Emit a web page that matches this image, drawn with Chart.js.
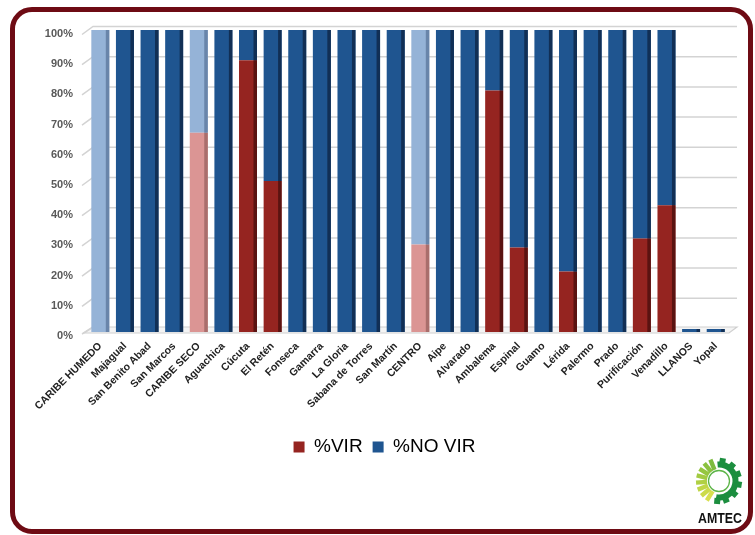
<!DOCTYPE html>
<html>
<head>
<meta charset="utf-8">
<script src="https://cdn.jsdelivr.net/npm/chart.js@4/dist/chart.umd.min.js"></script>
<style>
  html, body { margin: 0; padding: 0; background: #ffffff; }
  #wrap { position: relative; width: 755px; height: 535px; overflow: hidden; }
  #frame {
    position: absolute; left: 10px; top: 7px; width: 733px; height: 517px;
    border: 5px solid #6E0B14; border-radius: 22px; box-sizing: content-box;
  }
  #chart { position: absolute; left: 0; top: 0; }
  #logo { position: absolute; left: 690px; top: 452px; }
</style>
</head>
<body>
<div id="wrap">
  <div id="frame"></div>
  <canvas id="chart" width="755" height="535"></canvas>
  <svg id="logo" width="64" height="80" viewBox="0 0 64 80"></svg>
</div>
<script>
// Municipalities grouped by region (region rows are in capitals)
const categories = ['CARIBE HUMEDO', 'Majagual', 'San Benito Abad', 'San Marcos', 'CARIBE SECO',
  'Aguachica', 'Cúcuta', 'El Retén', 'Fonseca', 'Gamarra', 'La Gloria', 'Sabana de Torres',
  'San Martín', 'CENTRO', 'Aipe', 'Alvarado', 'Ambalema', 'Espinal', 'Guamo', 'Lérida',
  'Palermo', 'Prado', 'Purificación', 'Venadillo', 'LLANOS', 'Yopal'];

// Region totals drawn in lighter tones
const regionRows = ['CARIBE HUMEDO', 'CARIBE SECO', 'CENTRO'];

// Share of samples with / without virus (%)
const vir   = [0, 0, 0, 0, 66, 0, 90, 50, 0, 0, 0, 0, 0, 29, 0, 0, 80, 28, 0, 20, 0, 0, 31, 42, 0, 0];
const noVir = [100, 100, 100, 100, 34, 100, 10, 50, 100, 100, 100, 100, 100, 71, 100, 100, 20, 72, 100, 80, 100, 100, 69, 58, 0, 0];

const yTicks = [0, 10, 20, 30, 40, 50, 60, 70, 80, 90, 100];

const RED = '#952420', RED_LIGHT = '#DB9594';
const BLUE = '#1F5590', BLUE_LIGHT = '#95B3D7';
const SIDE = { '#952420': '#5A1311', '#DB9594': '#A96E6C', '#1F5590': '#112F55', '#95B3D7': '#6985AA' };

const isRegion = c => regionRows.includes(c);

// Back wall grid lines, left wall slants and floor for a 3-D look
const wallPlugin = {
  id: 'wall',
  beforeDatasetsDraw(chart) {
    const { ctx, chartArea: a, scales: { y } } = chart;
    ctx.save();
    const y0 = y.getPixelForValue(0);
    // floor
    ctx.beginPath();
    ctx.moveTo(a.left - 4, y0 + 1);
    ctx.lineTo(a.right + 1, y0 + 1);
    ctx.lineTo(a.right + 9, y0 - 5);
    ctx.lineTo(a.left + 5, y0 - 5);
    ctx.closePath();
    ctx.fillStyle = '#F4F4F4';
    ctx.fill();
    ctx.strokeStyle = '#CFCFCF';
    ctx.lineWidth = 1.2;
    ctx.stroke();
    // grid lines
    ctx.strokeStyle = '#D3D3D3';
    ctx.lineWidth = 1.5;
    yTicks.forEach(v => {
      if (v === 0) return;
      const yb = y.getPixelForValue(v) - 3.5;
      ctx.beginPath();
      ctx.moveTo(a.left - 6, yb + 8);
      ctx.lineTo(a.left + 5, yb);
      ctx.lineTo(a.right + 9, yb);
      ctx.stroke();
    });
    // left slant of the floor edge
    ctx.beginPath();
    ctx.moveTo(a.left - 6, y0 + 2);
    ctx.lineTo(a.left + 5, y0 - 5);
    ctx.stroke();
    ctx.restore();
  },
  afterDatasetsDraw(chart) {
    // darker right side on every bar
    const { ctx } = chart;
    ctx.save();
    chart.data.datasets.forEach((ds, di) => {
      const meta = chart.getDatasetMeta(di);
      meta.data.forEach((bar, i) => {
        const { x, y, base, width } = bar.getProps(['x', 'y', 'base', 'width'], true);
        const h = base - y;
        if (h <= 0.5) return;
        const col = ds.backgroundColor[i];
        ctx.fillStyle = SIDE[col];
        ctx.fillRect(x + width / 2 - 3.5, y, 3.5, h);
      });
    });
    ctx.restore();
  }
};

new Chart(document.getElementById('chart'), {
  type: 'bar',
  data: {
    labels: categories,
    datasets: [
      {
        label: '%VIR',
        data: vir,
        backgroundColor: categories.map(c => isRegion(c) ? RED_LIGHT : RED),
        barPercentage: 0.73,
        categoryPercentage: 1
      },
      {
        label: '%NO VIR',
        data: noVir,
        backgroundColor: categories.map(c => isRegion(c) ? BLUE_LIGHT : BLUE),
        barPercentage: 0.73,
        categoryPercentage: 1,
        minBarLength: 3
      }
    ]
  },
  options: {
    responsive: false,
    animation: false,
    layout: { padding: { left: 41, right: 27, top: 30, bottom: 68.5 } },
    plugins: {
      tooltip: { enabled: false },
      legend: {
        position: 'bottom',
        labels: {
          boxWidth: 11,
          boxHeight: 11,
          padding: 10,
          color: '#3A3A3A',
          font: { family: 'Liberation Sans, Arial, sans-serif', size: 19 },
          generateLabels: () => [
            { text: '%VIR', fillStyle: RED, strokeStyle: RED, lineWidth: 0, datasetIndex: 0 },
            { text: '%NO VIR', fillStyle: BLUE, strokeStyle: BLUE, lineWidth: 0, datasetIndex: 1 }
          ]
        }
      }
    },
    scales: {
      x: {
        stacked: true,
        grid: { display: false, drawTicks: false },
        border: { display: false },
        ticks: {
          autoSkip: false,
          maxRotation: 45,
          minRotation: 45,
          padding: 8,
          color: '#222222',
          font: { family: 'Liberation Sans, Arial, sans-serif', size: 10.5, weight: 'bold' }
        },
        afterFit: s => { s.height = 95.5; }
      },
      y: {
        stacked: true,
        min: 0,
        max: 100,
        grid: { display: false, drawTicks: false },
        border: { display: false },
        afterBuildTicks: s => { s.ticks = yTicks.map(v => ({ value: v })); },
        ticks: {
          padding: 15,
          labelOffset: 4,
          color: '#595959',
          font: { family: 'Liberation Sans, Arial, sans-serif', size: 11, weight: 'bold' },
          callback: v => v + '%'
        },
        afterFit: s => { s.width = 47; }
      }
    }
  },
  plugins: [wallPlugin]
});

// AMTEC logo: sunburst rays on the left, cog on the right
(function () {
  const svg = document.getElementById('logo');
  const cx = 29, cy = 29;
  let html = '';
  const rayColors = ['#D7DF4E', '#CCDB4A', '#BFD647', '#B0D044', '#A2CB42', '#95C640', '#8AC13F', '#7DBB3E'];
  rayColors.forEach((c, i) => {
    const ang = 122 + i * 18;
    html += `<rect x="${cx + 12}" y="${cy - 2.2}" width="11" height="4.4" fill="${c}" transform="rotate(${ang} ${cx} ${cy})"/>`;
  });
  // cog ring
  const r = 16.5, a0 = -95 * Math.PI / 180, a1 = 100 * Math.PI / 180;
  html += `<path d="M ${cx + r * Math.cos(a0)} ${cy + r * Math.sin(a0)} A ${r} ${r} 0 1 1 ${cx + r * Math.cos(a1)} ${cy + r * Math.sin(a1)}" fill="none" stroke="#1C8E3F" stroke-width="6"/>`;
  [-80, -50, -20, 10, 40, 70, 95].forEach(ang => {
    html += `<rect x="${cx + 17}" y="${cy - 3}" width="6" height="6" fill="#1C8E3F" transform="rotate(${ang} ${cx} ${cy})"/>`;
  });
  html += `<circle cx="${cx}" cy="${cy}" r="10.5" fill="none" stroke="#5DB548" stroke-width="1.3"/>`;
  html += `<text x="${cx + 1}" y="71" text-anchor="middle" textLength="44" lengthAdjust="spacingAndGlyphs" font-family="Liberation Sans, Arial, sans-serif" font-weight="bold" font-size="14" fill="#111">AMTEC</text>`;
  svg.innerHTML = html;
})();
</script>
</body>
</html>
